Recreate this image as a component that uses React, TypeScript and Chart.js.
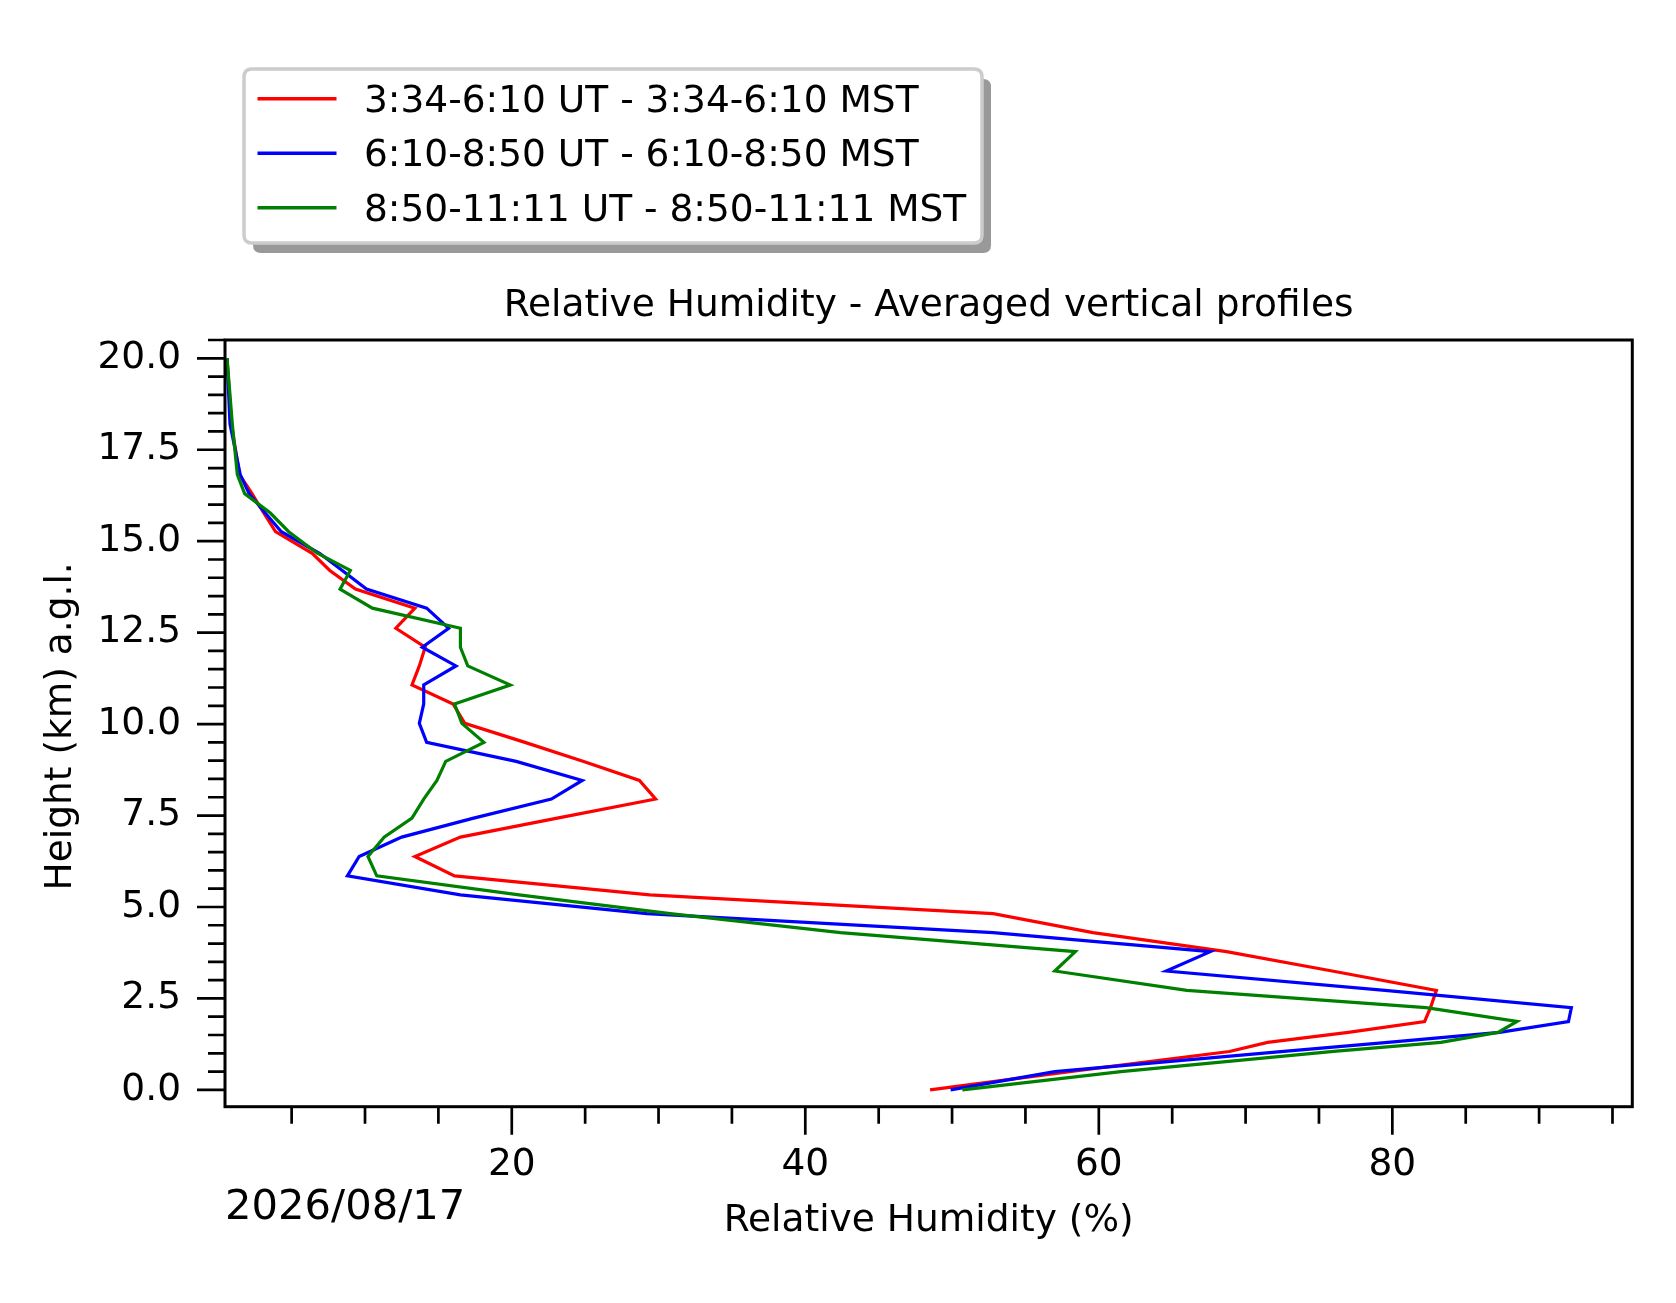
import React, { useEffect, useRef } from 'react';
import { Chart, registerables } from 'chart.js';

Chart.register(...registerables);

// Heights (km a.g.l.), bottom to top
const HEIGHTS_KM = [0.0, 0.5, 1.05, 1.3, 1.57, 1.87, 2.25, 2.72, 3.25, 3.78, 4.3, 4.82, 5.33, 5.85, 6.38, 6.91, 7.43, 7.95, 8.46, 8.98, 9.5, 10.02, 10.55, 11.07, 11.59, 12.1, 12.62, 13.17, 13.69, 14.2, 14.67, 15.26, 15.77, 16.3, 16.82, 18.2, 20.0];

// Relative humidity (%) per averaging period
const RH_RED = [48.5, 58.0, 68.9, 71.5, 77.0, 82.2, 82.6, 83.0, 75.9, 68.7, 59.6, 52.8, 29.4, 16.1, 13.4, 16.5, 23.1, 29.8, 28.7, 24.9, 20.9, 16.8, 16.0, 13.2, 13.7, 14.1, 12.1, 13.4, 9.35, 7.6, 6.4, 3.9, 3.1, 2.3, 1.45, 0.9, 0.6];
const RH_BLUE = [49.9, 57.0, 72.6, 79.7, 87.3, 92.0, 92.2, 79.5, 64.6, 67.6, 52.8, 29.2, 16.5, 8.8, 9.6, 12.5, 17.4, 22.7, 24.8, 20.3, 14.2, 13.7, 14.0, 14.0, 16.2, 13.9, 15.7, 14.2, 10.1, 8.45, 6.9, 4.3, 3.2, 2.1, 1.5, 0.8, 0.6];
const RH_GREEN = [50.7, 61.5, 76.0, 83.3, 87.2, 88.5, 82.3, 66.0, 57.0, 58.4, 42.4, 30.8, 20.5, 10.8, 10.2, 11.3, 13.2, 14.0, 14.9, 15.5, 18.1, 16.6, 16.1, 19.9, 17.0, 16.5, 16.5, 10.5, 8.3, 9.0, 6.75, 4.8, 3.55, 1.8, 1.3, 0.96, 0.6];

const SERIES_LABELS = [
  '3:34-6:10 UT - 3:34-6:10 MST',
  '6:10-8:50 UT - 6:10-8:50 MST',
  '8:50-11:11 UT - 8:50-11:11 MST',
];
const SERIES_COLORS = ['#ff0000', '#0000ff', '#008000'];

const TITLE = 'Relative Humidity - Averaged vertical profiles';
const X_TITLE = 'Relative Humidity (%)';
const Y_TITLE = 'Height (km) a.g.l.';
const DATE_TEXT = '2026/08/17';

const X_MIN = 0.46;
const X_MAX = 96.35;
const Y_MIN = -0.46;
const Y_MAX = 20.5;
const X_MINOR_STEP = 5;
const X_MAJOR_STEP = 20;
const Y_MINOR_STEP = 0.5;
const Y_MAJOR_STEP = 2.5;

const W = 1676;
const H = 1303;
const FONT = '"DejaVu Sans", "Liberation Sans", sans-serif';
const FS = 37.5;

const isMultiple = (v: number, step: number) => Math.abs(v / step - Math.round(v / step)) < 1e-6;

const decorPlugin = {
  id: 'decor',
  afterDraw(chart: any) {
    const ctx = chart.ctx as CanvasRenderingContext2D;
    const { left, right, top, bottom } = chart.chartArea;
    ctx.save();

    // axes frame
    ctx.strokeStyle = '#000';
    ctx.lineWidth = 3;
    ctx.strokeRect(left, top, right - left, bottom - top);

    // tick marks
    ctx.lineWidth = 2.7;
    ctx.beginPath();
    const xs = chart.scales.x;
    for (const t of xs.ticks) {
      const px = xs.getPixelForValue(t.value);
      const len = isMultiple(t.value, X_MAJOR_STEP) ? 28 : 17;
      ctx.moveTo(px, bottom);
      ctx.lineTo(px, bottom + len);
    }
    const ys = chart.scales.y;
    for (const t of ys.ticks) {
      const py = ys.getPixelForValue(t.value);
      const len = isMultiple(t.value, Y_MAJOR_STEP) ? 28 : 17;
      ctx.moveTo(left, py);
      ctx.lineTo(left - len, py);
    }
    ctx.stroke();

    // titles
    ctx.fillStyle = '#000';
    ctx.font = `${FS}px ${FONT}`;
    ctx.textAlign = 'center';
    ctx.textBaseline = 'alphabetic';
    ctx.fillText(TITLE, (left + right) / 2, 316);
    ctx.fillText(X_TITLE, (left + right) / 2, 1231);

    ctx.save();
    ctx.translate(71, (top + bottom) / 2 + 3);
    ctx.rotate(-Math.PI / 2);
    ctx.fillText(Y_TITLE, 0, 0);
    ctx.restore();

    ctx.font = `41.7px ${FONT}`;
    ctx.textAlign = 'left';
    ctx.fillText(DATE_TEXT, left, 1219);

    // legend
    const lx = 244, ly = 69, lw = 738, lh = 174, r = 8;
    const rr = (x: number, y: number, w: number, h: number, rad: number) => {
      ctx.beginPath();
      ctx.moveTo(x + rad, y);
      ctx.lineTo(x + w - rad, y);
      ctx.quadraticCurveTo(x + w, y, x + w, y + rad);
      ctx.lineTo(x + w, y + h - rad);
      ctx.quadraticCurveTo(x + w, y + h, x + w - rad, y + h);
      ctx.lineTo(x + rad, y + h);
      ctx.quadraticCurveTo(x, y + h, x, y + h - rad);
      ctx.lineTo(x, y + rad);
      ctx.quadraticCurveTo(x, y, x + rad, y);
      ctx.closePath();
    };
    rr(lx + 9, ly + 10, lw, lh, r);
    ctx.fillStyle = '#999999';
    ctx.fill();
    rr(lx, ly, lw, lh, r);
    ctx.fillStyle = '#ffffff';
    ctx.fill();
    ctx.strokeStyle = '#cccccc';
    ctx.lineWidth = 3.5;
    ctx.stroke();

    ctx.font = `${FS}px ${FONT}`;
    ctx.textAlign = 'left';
    ctx.textBaseline = 'alphabetic';
    for (let i = 0; i < SERIES_LABELS.length; i++) {
      const cy = 98.7 + i * 54.5;
      ctx.strokeStyle = SERIES_COLORS[i];
      ctx.lineWidth = 3.5;
      ctx.beginPath();
      ctx.moveTo(257.5, cy);
      ctx.lineTo(336.5, cy);
      ctx.stroke();
      ctx.fillStyle = '#000';
      ctx.fillText(SERIES_LABELS[i], 364, cy + 13);
    }

    ctx.restore();
  },
};

export default function App() {
  const canvasRef = useRef<HTMLCanvasElement | null>(null);

  useEffect(() => {
    const canvas = canvasRef.current;
    if (!canvas) return;
    const series = [RH_RED, RH_BLUE, RH_GREEN];
    const chart = new Chart(canvas, {
      type: 'line',
      data: {
        datasets: series.map((vals, i) => ({
          label: SERIES_LABELS[i],
          data: HEIGHTS_KM.map((h, j) => ({ x: vals[j], y: h })),
          borderColor: SERIES_COLORS[i],
          backgroundColor: SERIES_COLORS[i],
          borderWidth: 3.2,
          pointRadius: 0,
          tension: 0,
          fill: false,
          order: 3 - i,
        })),
      },
      options: {
        responsive: false,
        animation: false,
        devicePixelRatio: 1,
        layout: { padding: { left: 0, right: W - 1632.3, top: 340, bottom: 0 } },
        plugins: {
          legend: { display: false },
          title: { display: false },
          tooltip: { enabled: false },
        },
        scales: {
          x: {
            type: 'linear',
            position: 'bottom',
            min: X_MIN,
            max: X_MAX,
            border: { display: false },
            grid: { display: false, drawTicks: true, tickLength: 28 },
            ticks: {
              stepSize: X_MINOR_STEP,
              includeBounds: false,
              autoSkip: false,
              maxRotation: 0,
              padding: 8,
              color: '#000',
              font: { family: FONT, size: FS },
              callback: (v: any) => (isMultiple(Number(v), X_MAJOR_STEP) ? String(Math.round(Number(v))) : ''),
            },
            afterBuildTicks: (scale: any) => {
              scale.ticks = scale.ticks.filter(
                (t: any) => isMultiple(t.value, X_MINOR_STEP) && t.value >= X_MIN && t.value <= X_MAX,
              );
            },
            afterFit: (scale: any) => {
              scale.height = H - 1106.7;
            },
          },
          y: {
            type: 'linear',
            position: 'left',
            min: Y_MIN,
            max: Y_MAX,
            border: { display: false },
            grid: { display: false, drawTicks: true, tickLength: 28 },
            ticks: {
              stepSize: Y_MINOR_STEP,
              includeBounds: false,
              autoSkip: false,
              padding: 16,
              color: '#000',
              font: { family: FONT, size: FS },
              callback: (v: any) => (isMultiple(Number(v), Y_MAJOR_STEP) ? Number(v).toFixed(1) : ''),
            },
            afterBuildTicks: (scale: any) => {
              scale.ticks = scale.ticks.filter(
                (t: any) => isMultiple(t.value, Y_MINOR_STEP) && t.value >= Y_MIN && t.value <= Y_MAX + 1e-9,
              );
            },
            afterFit: (scale: any) => {
              scale.width = 225;
            },
          },
        },
      },
      plugins: [decorPlugin],
    });
    return () => chart.destroy();
  }, []);

  return (
    <div style={{ position: 'absolute', left: 0, top: 0, width: W, height: H, background: '#fff' }}>
      <canvas ref={canvasRef} width={W} height={H} style={{ width: W, height: H, display: 'block' }} />
    </div>
  );
}
